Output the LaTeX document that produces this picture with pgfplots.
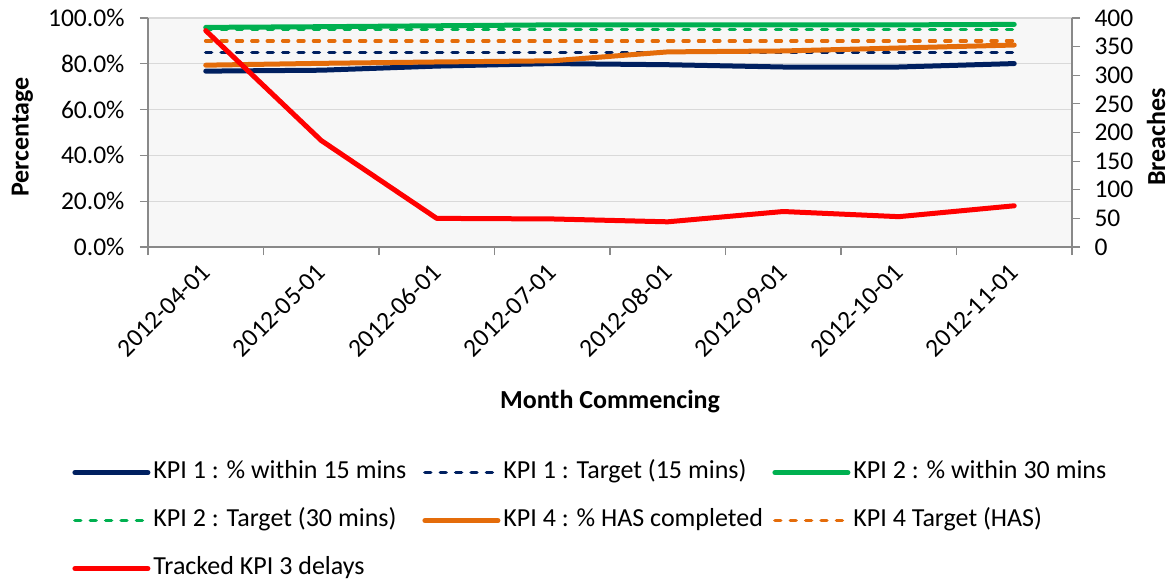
\documentclass[border=0pt]{standalone}
\usepackage{pgfplots}
\pgfplotsset{compat=1.18}
\usepackage{fontspec}
\setmainfont{Carlito}
\definecolor{navy}{HTML}{002060}
\definecolor{kgreen}{HTML}{00B050}
\definecolor{korange}{HTML}{E46C0A}
\definecolor{kred}{HTML}{FF0000}
\definecolor{axisgray}{HTML}{898989}
\definecolor{gridgray}{HTML}{D9D9D9}
\definecolor{bggray}{HTML}{F7F7F7}
\pgfplotstableread{
x kpi1 kpi1t kpi2 kpi2t kpi4 kpi4t
0 76.8 85 95.9 95 79.4 90
1 77.2 85 96.2 95 80.2 90
2 79.0 85 96.6 95 80.8 90
3 80.1 85 97.0 95 81.3 90
4 79.6 85 97.0 95 85.2 90
5 78.6 85 97.0 95 85.6 90
6 78.6 85 97.0 95 86.9 90
7 80.1 85 97.2 95 88.2 90
}\kpi
\pgfplotstableread{
x delays
0 378
1 186
2 50
3 49
4 44
5 62
6 53
7 72
}\delays
\begin{document}
\begin{tikzpicture}
\path[use as bounding box] (-148bp,-333bp) rectangle (1024bp,247bp);
\pgfplotsset{
  every axis/.append style={
    scale only axis, width=924bp, height=229bp,
    xmin=-0.5, xmax=7.5,
    font=\fontsize{25.5bp}{30bp}\selectfont,
    axis line style={axisgray, line width=1.2bp},
    tick style={axisgray, line width=1.2bp},
    tick align=outside,
    major tick length=8bp,
  },
  solidline/.style={line width=5bp, line cap=round, line join=round},
  dashline/.style={line width=3.6bp, line cap=round, dash pattern=on 5.8bp off 9.6bp},
}
\begin{axis}[
  axis x line*=bottom, axis y line*=left,
  axis background/.style={fill=bggray},
  ymin=0, ymax=100, ytick={0,20,...,100},
  yticklabel={\pgfmathprintnumber[fixed,fixed zerofill,precision=1]{\tick}\%},
  yticklabel style={/pgf/number format/assume math mode=true, xshift=-12bp},
  ymajorgrids, grid style={gridgray, line width=1.2bp},
  xtick={0,...,7},
  xticklabels={2012-04-01,2012-05-01,2012-06-01,2012-07-01,2012-08-01,2012-09-01,2012-10-01,2012-11-01},
  major x tick style={draw=none},
  minor xtick={-0.5,0.5,...,7.5},
  minor tick length=8bp,
  minor x tick style={axisgray, line width=1.2bp},
  xticklabel style={xshift=-6bp, yshift=-7bp, rotate=45, anchor=north east, inner sep=0pt},
  xlabel={\textbf{Month Commencing}},
  xlabel style={at={(axis description cs:0.5,-0.675)}, anchor=center, font=\fontsize{26bp}{30bp}\selectfont},
  ylabel={\textbf{Percentage}},
  ylabel style={at={(axis description cs:-0.136,0.48)}, anchor=center, font=\fontsize{26bp}{30bp}\selectfont},
]
\addplot[solidline, navy] table[x=x, y=kpi1] {\kpi};
\addplot[dashline, navy] table[x=x, y=kpi1t] {\kpi};
\addplot[solidline, kgreen] table[x=x, y=kpi2] {\kpi};
\addplot[dashline, kgreen] table[x=x, y=kpi2t] {\kpi};
\addplot[solidline, korange] table[x=x, y=kpi4] {\kpi};
\addplot[dashline, korange] table[x=x, y=kpi4t] {\kpi};
\end{axis}
\begin{axis}[
  axis x line=none, axis y line*=right,
  ymin=0, ymax=400, ytick={0,50,...,400},
  yticklabel style={/pgf/number format/assume math mode=true, xshift=11bp},
  ylabel={\textbf{Breaches}},
  ylabel style={at={(axis description cs:1.0909,0.48)}, anchor=center, font=\fontsize{26bp}{30bp}\selectfont},
  legend columns=3,
  legend cell align=left,
  legend style={at={(-0.082,-0.932)}, anchor=north west, draw=none, fill=none,
    inner sep=0pt, row sep=24bp,
    font=\fontsize{26bp}{30bp}\selectfont,
    nodes={inner sep=0pt, text height=18bp, text depth=6bp}},
  legend image code/.code={\draw[#1] (0bp,0bp) -- (73bp,0bp);},
]
\addlegendimage{solidline, navy}
\addlegendentry{\makebox[272bp][l]{\hspace{3bp}KPI 1 : \% within 15 mins}}
\addlegendimage{dashline, navy}
\addlegendentry{\makebox[272bp][l]{\hspace{3bp}KPI 1 : Target (15 mins)}}
\addlegendimage{solidline, kgreen}
\addlegendentry{\makebox[272bp][l]{\hspace{3bp}KPI 2 : \% within 30 mins}}
\addlegendimage{dashline, kgreen}
\addlegendentry{\makebox[272bp][l]{\hspace{3bp}KPI 2 : Target (30 mins)}}
\addlegendimage{solidline, korange}
\addlegendentry{\makebox[272bp][l]{\hspace{3bp}KPI 4 : \% HAS completed}}
\addlegendimage{dashline, korange}
\addlegendentry{\makebox[272bp][l]{\hspace{3bp}KPI 4 Target (HAS)}}
\addplot[solidline, kred] table[x=x, y=delays] {\delays};
\addlegendentry{\makebox[272bp][l]{\hspace{3bp}Tracked KPI 3 delays}}
\end{axis}
\end{tikzpicture}
\end{document}
